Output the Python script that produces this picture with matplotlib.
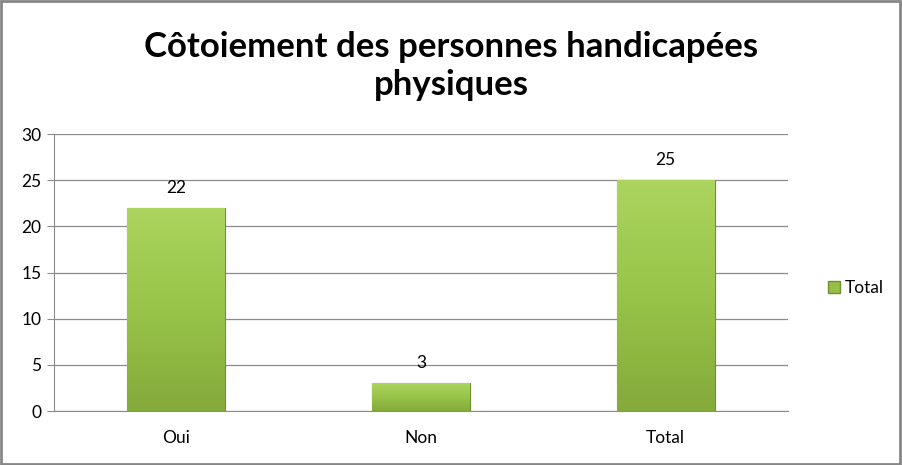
import numpy as np
import matplotlib.pyplot as plt
from matplotlib.colors import LinearSegmentedColormap
from matplotlib.patches import Patch

categories = ["Oui", "Non", "Total"]
values = [22, 3, 25]
series_name = "Total"
title = "Côtoiement des personnes handicapées\nphysiques"
yticks = [0, 5, 10, 15, 20, 25, 30]

plt.rcParams["font.family"] = ["Lato", "DejaVu Sans"]

GRID = "#8c8c8c"
TOP, MID, BOTTOM, EDGE = "#abd55e", "#98c449", "#84aa3a", "#6f902c"

fig = plt.figure(figsize=(9.02, 4.65), dpi=100)
ax = fig.add_axes([54 / 902, 1 - 411 / 465, (788 - 54) / 902, (411 - 134) / 465])

x = np.arange(len(categories))
bars = ax.bar(x, values, width=0.4, color=TOP, edgecolor=EDGE, linewidth=0.8, zorder=2)

# vertical gradient inside each bar
grad = np.linspace(1, 0, 256).reshape(-1, 1)
cmap = LinearSegmentedColormap.from_list("g", [BOTTOM, MID, TOP])
for b in bars:
    x0, w, h = b.get_x(), b.get_width(), b.get_height()
    im = ax.imshow(grad, cmap=cmap, extent=[x0, x0 + w, 0, h], aspect="auto", zorder=3)
    im.set_clip_path(b)
    ax.text(x0 + w / 2, h + 1.3, str(h), ha="center", va="bottom", fontsize=12.5, zorder=4)

ax.set_xlim(-0.5, len(categories) - 0.5)
ax.set_ylim(0, 30)
ax.set_yticks(yticks)
ax.set_xticks(x, categories)
ax.tick_params(axis="y", length=5, color=GRID, labelsize=12.5, pad=4)
ax.tick_params(axis="x", length=0, labelsize=12.5, pad=14)
ax.grid(axis="y", color=GRID, linewidth=0.9, zorder=0)
ax.set_axisbelow(True)
for s in ["top", "right"]:
    ax.spines[s].set_visible(False)
for s in ["left", "bottom"]:
    ax.spines[s].set_color(GRID)

fig.text(0.5, 1 - 66 / 465, title, ha="center", va="center", fontsize=25,
         fontweight="bold", linespacing=1.25)

fig.legend(handles=[Patch(facecolor="#95bf47", edgecolor=EDGE, label=series_name)],
           loc="center left", bbox_to_anchor=(812 / 902, 1 - 288 / 465), frameon=False,
           fontsize=12.5, handlelength=0.7, handleheight=0.7, handletextpad=0.3)

# outer chart border
fig.patches.append(plt.Rectangle((0.001, 0.002), 0.997, 0.995, transform=fig.transFigure,
                                 fill=False, edgecolor="#868686", linewidth=2))

fig.savefig("out.png", dpi=100)
